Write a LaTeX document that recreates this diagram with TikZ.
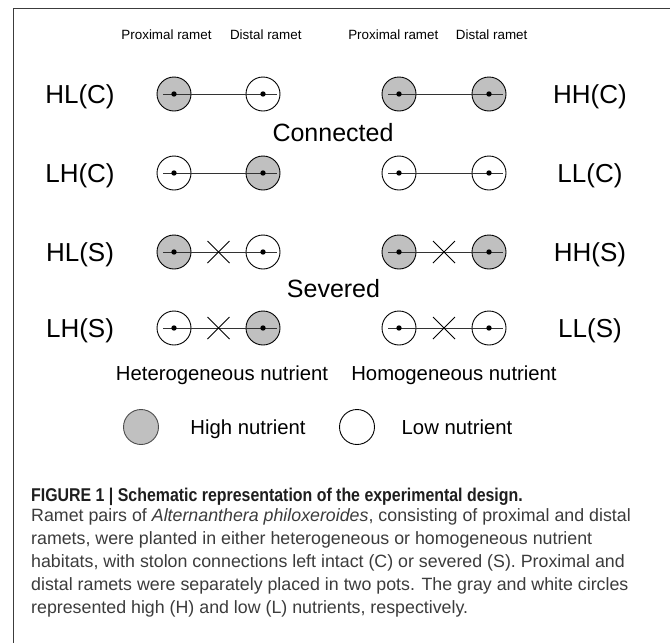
\documentclass[tikz,border=0pt]{standalone}
\usepackage{fontspec}
\setmainfont{Liberation Sans}
\usetikzlibrary{calc}
\definecolor{higray}{RGB}{192,192,192}
\definecolor{framegray}{RGB}{60,60,60}
\definecolor{captxt}{RGB}{60,60,60}
\definecolor{capbold}{RGB}{30,30,30}
\begin{document}
\begin{tikzpicture}[x=1pt,y=-1pt,
  ramet/.style={circle,draw=black,line width=0.9pt,minimum size=34pt,inner sep=0pt},
  hi/.style={ramet,fill=higray},
  lo/.style={ramet,fill=white},
  stolon/.style={draw=black!80,line width=0.9pt},
  cutmark/.style={draw=black,line width=1pt},
  biglabel/.style={font=\fontsize{26}{30}\selectfont,inner sep=0pt,anchor=base},
  midlabel/.style={font=\fontsize{25}{30}\selectfont,inner sep=0pt,anchor=base},
  headlabel/.style={font=\fontsize{13.4}{16}\selectfont,inner sep=0pt,anchor=base},
  legendlabel/.style={font=\fontsize{20.3}{24}\selectfont,inner sep=0pt,anchor=base},
  captionline/.style={font=\fontsize{17.8}{22}\selectfont,text=captxt,inner sep=0pt,anchor=base west},
]
\useasboundingbox (0,0) rectangle (670,643);
\fill[white] (0,0) rectangle (670,643);
% frame
\draw[framegray,line width=1.6pt] (670,8.6) -- (13.6,8.6) -- (13.6,643);

% headers
\node[headlabel] (hp1) at (166.5,39.8) {Proximal ramet};
\node[headlabel] (hd1) at (265.8,39.8) {Distal ramet};
\node[headlabel] (hp2) at (393.3,39.8) {Proximal ramet};
\node[headlabel] (hd2) at (491.7,39.8) {Distal ramet};

% row labels
\node[biglabel] (lHLC) at (80,103.3) {HL(C)};
\node[biglabel] (lHHC) at (590,103.3) {HH(C)};
\node[biglabel] (lLHC) at (80,182.3) {LH(C)};
\node[biglabel] (lLLC) at (590,182.3) {LL(C)};
\node[biglabel] (lHLS) at (80,261.3) {HL(S)};
\node[biglabel] (lHHS) at (590,261.3) {HH(S)};
\node[biglabel] (lLHS) at (80,337.3) {LH(S)};
\node[biglabel] (lLLS) at (590,337.3) {LL(S)};
\node[midlabel] (conn) at (333,141.5) {Connected};
\node[midlabel] (sev) at (333.5,297) {Severed};

% ramets
\node[hi] (a1) at (174,94) {};  \node[lo] (b1) at (263,94) {};
\node[hi] (c1) at (399,94) {};  \node[hi] (d1) at (489,94) {};
\node[lo] (a2) at (174,173) {}; \node[hi] (b2) at (263,173) {};
\node[lo] (c2) at (399,173) {}; \node[lo] (d2) at (489,173) {};
\node[hi] (a3) at (174,252) {}; \node[lo] (b3) at (263,252) {};
\node[hi] (c3) at (399,252) {}; \node[hi] (d3) at (489,252) {};
\node[lo] (a4) at (174,328) {}; \node[hi] (b4) at (263,328) {};
\node[lo] (c4) at (399,328) {}; \node[lo] (d4) at (489,328) {};

% stolons
\foreach \p/\q in {a1/b1,c1/d1,a2/b2,c2/d2,a3/b3,c3/d3,a4/b4,c4/d4}{
  \draw[stolon] ([xshift=-11pt]\p.center) -- ([xshift=13.5pt]\q.center);
}
% severing marks
\foreach \p/\q in {a3/b3,c3/d3,a4/b4,c4/d4}{
  \coordinate (m) at ($(\p)!0.5!(\q)$);
  \draw[cutmark] ($(m)+(-11,-11)$) -- ($(m)+(11,11)$);
  \draw[cutmark] ($(m)+(-11,11)$) -- ($(m)+(11,-11)$);
}
% ramet centres
\foreach \r in {a1,b1,c1,d1,a2,b2,c2,d2,a3,b3,c3,d3,a4,b4,c4,d4}{
  \fill[black] (\r.center) circle (2.7);
}

% group labels
\node[legendlabel] (het) at (222,380) {Heterogeneous nutrient};
\node[legendlabel] (hom) at (454,380) {Homogeneous nutrient};

% legend
\node[circle,draw=black!70,line width=0.9pt,fill=higray,minimum size=35pt,inner sep=0pt] (lgh) at (141,427) {};
\node[legendlabel] (lght) at (248,434) {High nutrient};
\node[circle,draw=black,line width=0.9pt,fill=white,minimum size=35pt,inner sep=0pt] (lgl) at (357,427) {};
\node[legendlabel] (lglt) at (457,434) {Low nutrient};

% caption
\node[captionline,text=capbold,font=\fontsize{18.5}{22}\selectfont] (cap1) at (31,501) {\scalebox{0.86}[1]{\bfseries FIGURE 1 | Schematic representation of the experimental design.}};
\node[captionline] (cap2) at (31,521) {Ramet pairs of \textit{Alternanthera philoxeroides}, consisting of proximal and distal};
\node[captionline] (cap3) at (31,544) {ramets, were planted in either heterogeneous or homogeneous nutrient};
\node[captionline] (cap4) at (31,567) {habitats, with stolon connections left intact (C) or severed (S). Proximal and};
\node[captionline] (cap5) at (31,590) {distal ramets were separately placed in two pots. The gray and white circles};
\node[captionline] (cap6) at (31,613) {represented high (H) and low (L) nutrients, respectively.};
\end{tikzpicture}
\end{document}
